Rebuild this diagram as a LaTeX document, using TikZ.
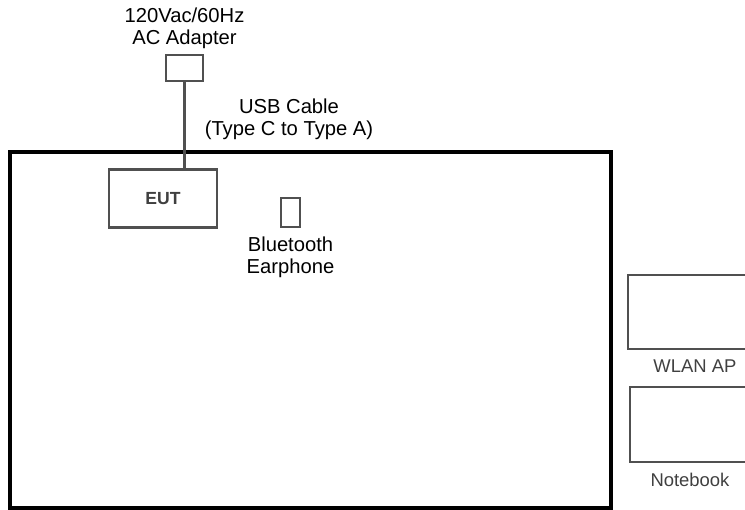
\documentclass[tikz,border=0pt]{standalone}
\usepackage{fontspec}
\setmainfont{Liberation Sans}
\usepackage{tikz}
\usetikzlibrary{positioning}

\definecolor{boxgray}{HTML}{505050}
\definecolor{labelgray}{HTML}{404040}

\begin{document}
\begin{tikzpicture}[x=0.02cm, y=-0.02cm, node distance=2mm,
  unit/.style={draw=boxgray, line width=1.4pt, inner sep=0pt},
  tag/.style={font=\fontsize{11.5}{12.6}\selectfont, align=center, inner sep=1pt},
  graytag/.style={font=\fontsize{10.5}{12}\selectfont, text=labelgray, inner sep=1pt}]
\useasboundingbox (0,0) rectangle (745,510);
\clip (0,0) rectangle (745,510);

% Test table (outer frame)
\draw[line width=2pt] (10,152) rectangle (611,508);

% Devices on the table
\node[unit, minimum width=2.16cm, minimum height=1.16cm] (eut) at (163,198.5) {};
\node[graytag, font=\fontsize{10}{12}\selectfont\bfseries] at (eut) {EUT};
\node[unit, minimum width=0.38cm, minimum height=0.58cm] (earphone) at (290.5,212.5) {};
\node[tag, below=1.3mm of earphone] (earphonelabel) {Bluetooth\\Earphone};

% Power supply and cable
\node[unit, minimum width=0.74cm, minimum height=0.52cm] (adapter) at (184.5,68) {};
\node[tag, above=0.5mm of adapter] (adapterlabel) {120Vac/60Hz\\AC Adapter};
\draw[boxgray, line width=1.4pt] (adapter.south) -- (adapter.south |- eut.north);
\node[tag] (cablelabel) at (289,119) {USB Cable\\(Type C to Type A)};

% Support units outside the table
\node[unit, minimum width=2.68cm, minimum height=1.48cm] (ap) at (695,312) {};
\node[graytag, below=1.5mm of ap] (aplabel) {WLAN AP};
\node[unit, minimum width=2.4cm, minimum height=1.5cm] (notebook) at (690,424.5) {};
\node[graytag, below=1.5mm of notebook] (notebooklabel) {Notebook};
\end{tikzpicture}
\end{document}
